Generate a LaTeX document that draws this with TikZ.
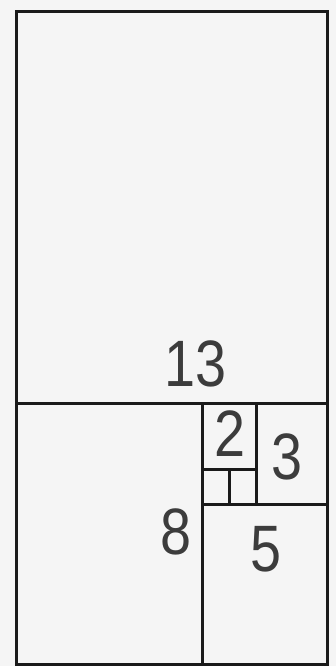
\documentclass[tikz,border=0pt]{standalone}
\usepackage{fontspec}
\setsansfont{Liberation Sans}
\usepackage{tikz}
\definecolor{paper}{HTML}{F5F5F5}
\definecolor{ink}{HTML}{1A1A1A}
\tikzset{
  edge/.style={draw=ink,line width=0.09cm},
  num/.style={font=\sffamily\fontsize{56}{56}\selectfont,xscale=0.85,inner sep=0pt,text=ink!85}
}

\begin{document}
\begin{tikzpicture}[x=0.03cm,y=-0.03cm]
  \fill[paper] (0,0) rectangle (336,666);
  \useasboundingbox (0,0) rectangle (336,666);
  % squares of the spiral
  \draw[edge] (16,11) rectangle (327,664);
  \draw[edge] (16,403) -- (327,403);
  \draw[edge] (202,403) -- (202,664);
  \draw[edge] (202,504) -- (327,504);
  \draw[edge] (256,403) -- (256,504);
  \draw[edge] (202,469) -- (256,469);
  \draw[edge] (229,469) -- (229,504);
  % sizes
  \node[num] (n13) at (196,364) {13};
  \node[num] (n2) at (230,434) {2};
  \node[num] (n3) at (287,457) {3};
  \node[num] (n8) at (176,532) {8};
  \node[num] (n5) at (266,549) {5};
\end{tikzpicture}
\end{document}
